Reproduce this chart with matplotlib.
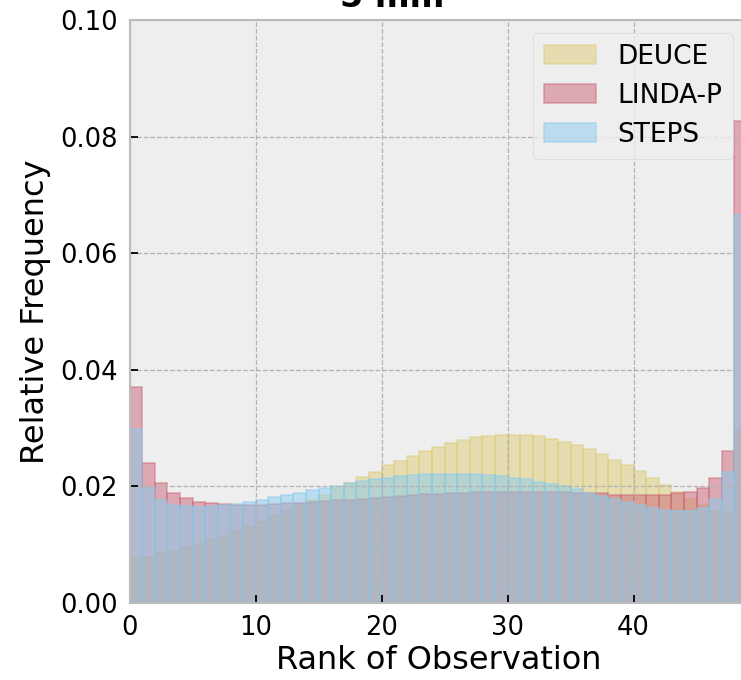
import numpy as np
import matplotlib
matplotlib.use("Agg")
import matplotlib.pyplot as plt

plt.style.use("bmh")
plt.rcParams['font.family'] = ['DejaVu Sans']

ranks = list(range(49))
deuce = [0.0078, 0.0079, 0.0085, 0.0089, 0.0096, 0.0102, 0.0108, 0.0115, 0.0124, 0.0131,
         0.0139, 0.0149, 0.0158, 0.0170, 0.0177, 0.0186, 0.0197, 0.0206, 0.0216, 0.0225,
         0.0236, 0.0244, 0.0253, 0.0261, 0.0268, 0.0274, 0.0280, 0.0284, 0.0287, 0.0288,
         0.0289, 0.0288, 0.0286, 0.0282, 0.0277, 0.0271, 0.0264, 0.0256, 0.0246, 0.0236,
         0.0226, 0.0214, 0.0202, 0.0190, 0.0179, 0.0168, 0.0158, 0.0156, 0.0295]
linda = [0.0371, 0.0240, 0.0205, 0.0189, 0.0180, 0.0174, 0.0172, 0.0169, 0.0168, 0.0168,
         0.0168, 0.0169, 0.0171, 0.0172, 0.0173, 0.0175, 0.0176, 0.0177, 0.0178, 0.0180,
         0.0182, 0.0184, 0.0185, 0.0187, 0.0187, 0.0188, 0.0189, 0.0190, 0.0190, 0.0190,
         0.0190, 0.0190, 0.0190, 0.0190, 0.0190, 0.0189, 0.0189, 0.0188, 0.0186, 0.0186,
         0.0185, 0.0185, 0.0185, 0.0188, 0.0191, 0.0198, 0.0214, 0.0260, 0.0827]
steps = [0.0299, 0.0198, 0.0177, 0.0168, 0.0166, 0.0165, 0.0166, 0.0168, 0.0170, 0.0173,
         0.0177, 0.0181, 0.0185, 0.0189, 0.0193, 0.0197, 0.0201, 0.0206, 0.0209, 0.0212,
         0.0214, 0.0217, 0.0220, 0.0221, 0.0222, 0.0222, 0.0221, 0.0221, 0.0219, 0.0217,
         0.0214, 0.0212, 0.0208, 0.0204, 0.0200, 0.0195, 0.0189, 0.0184, 0.0178, 0.0173,
         0.0168, 0.0163, 0.0160, 0.0158, 0.0158, 0.0163, 0.0178, 0.0225, 0.0666]
series_names = ["DEUCE", "LINDA-P", "STEPS"]
colors = ["#DDCC77", "#CC6677", "#88CCEE"]

W, H = 741, 680
fig = plt.figure(figsize=(W / 100, H / 100), dpi=100)
fig.patch.set_facecolor("white")
ax = fig.add_axes([129.7 / W, 77 / H, (747 - 129.7) / W, 583 / H])

bins = np.arange(50)
for vals, name, c in zip([deuce, linda, steps], series_names, colors):
    ax.hist(ranks, bins=bins, weights=vals, color=c, edgecolor=c, alpha=0.5,
            linewidth=1.2, label=name)

ax.set_xlim(0, 49)
ax.set_ylim(0, 0.10)
ax.set_xticks([0, 10, 20, 30, 40])
ax.set_yticks([0.00, 0.02, 0.04, 0.06, 0.08, 0.10])
ax.set_yticklabels(["0.00", "0.02", "0.04", "0.06", "0.08", "0.10"])
ax.tick_params(axis="both", direction="in", length=5.5, width=1.3, colors="black",
               labelsize=18.5, pad=8.5)
ax.grid(True, color="#b2b2b2", linestyle="--", linewidth=0.9)
for s in ax.spines.values():
    s.set_color("#bcbcbc")
    s.set_linewidth(1.5)

ax.set_xlabel("Rank of Observation", fontsize=23, labelpad=3)
ax.set_ylabel("Relative Frequency", fontsize=23, labelpad=7)

leg = ax.legend(loc="upper right", bbox_to_anchor=(733 / W, 1 - 33 / H),
                bbox_transform=fig.transFigure, borderaxespad=0, fontsize=19,
                fancybox=True, framealpha=0.8)
leg.get_frame().set_edgecolor("#d0d0d0")

fig.text(392 / W, 1 - 7 / H, "5 mm", ha="center", va="baseline",
         fontsize=24, fontweight="bold")

fig.savefig("out.png", dpi=100)
